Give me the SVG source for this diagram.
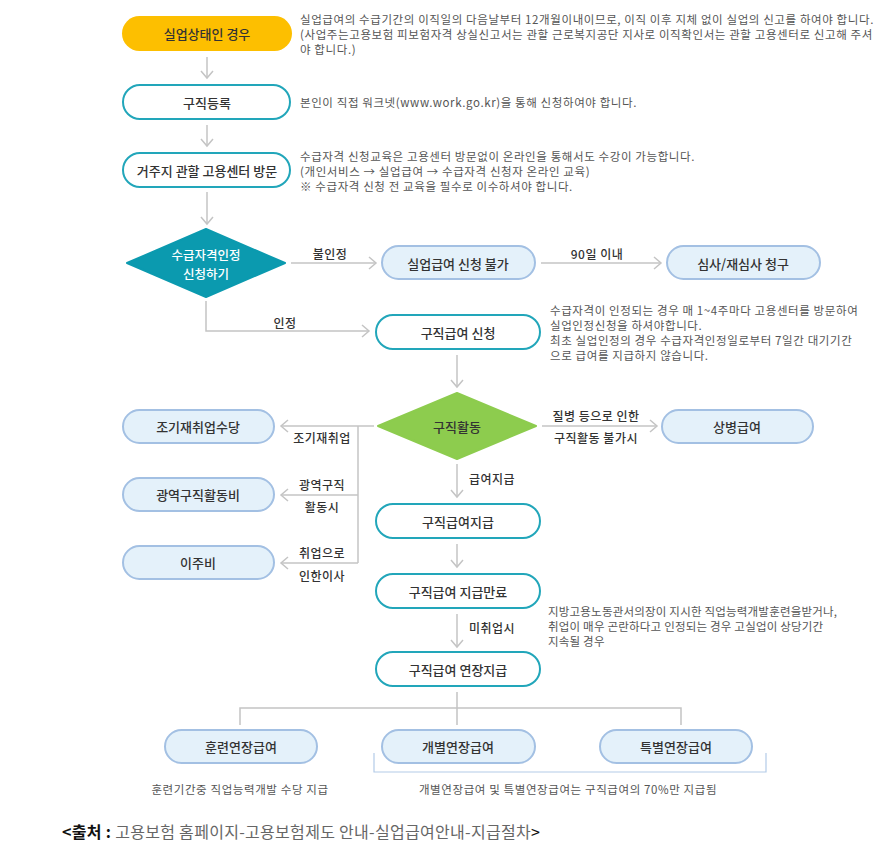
<svg xmlns="http://www.w3.org/2000/svg" width="894" height="855" viewBox="0 0 894 855">
<defs>
<marker id="ah" markerWidth="12" markerHeight="14" refX="9" refY="7" orient="auto" markerUnits="userSpaceOnUse">
<path d="M2,1 L9,7 L2,13" fill="none" stroke="#c4c4c4" stroke-width="1.5"/>
</marker>
<style>
text{font-family:"Noto Sans CJK KR","Noto Sans",sans-serif;dominant-baseline:central}
.lbl{font-size:13px;fill:#333;text-anchor:middle;font-weight:500}
.wl{font-size:12.5px;fill:#fff;text-anchor:middle;font-weight:500}
.edge{font-size:12px;fill:#333;text-anchor:middle;font-weight:500;letter-spacing:0.5px}
.note{font-size:11.5px;fill:#555;letter-spacing:0.6px}
.pt{fill:#fff;stroke:#22a6ba;stroke-width:2}
.pb{fill:#e4f1fa;stroke:#a3c0e3;stroke-width:2}
.c{fill:none;stroke:#c4c4c4;stroke-width:1.5}
</style>
</defs>
<rect width="894" height="855" fill="#fff"/>

<g id="connectors">
<path class="c" d="M207,57 V78" marker-end="url(#ah)"/>
<path class="c" d="M207,125 V146" marker-end="url(#ah)"/>
<path class="c" d="M207,192 V224" marker-end="url(#ah)"/>
<path class="c" d="M291,263 H376" marker-end="url(#ah)"/>
<path class="c" d="M541,263 H661" marker-end="url(#ah)"/>
<path class="c" d="M206,301 V331 H369" marker-end="url(#ah)"/>
<path class="c" d="M457,355 V387" marker-end="url(#ah)"/>
<path class="c" d="M542,426 H657" marker-end="url(#ah)"/>
<path class="c" d="M374,426 H281" marker-end="url(#ah)"/>
<path class="c" d="M358,426 V563"/>
<path class="c" d="M358,495 H281" marker-end="url(#ah)"/>
<path class="c" d="M358,563 H281" marker-end="url(#ah)"/>
<path class="c" d="M457,464 V497" marker-end="url(#ah)"/>
<path class="c" d="M457,544 V567" marker-end="url(#ah)"/>
<path class="c" d="M457,614 V647" marker-end="url(#ah)"/>
<path class="c" d="M457,692 V725 M240,725 V708 H681 V725"/>
<path d="M374,753 V772 H766 V753" fill="none" stroke="#b3cbe8" stroke-width="1.2"/>
<text class="edge" x="330" y="253">불인정</text>
<text class="edge" x="597" y="253">90일 이내</text>
<text class="edge" x="285" y="322">인정</text>
<text class="edge" x="596" y="415">질병 등으로 인한</text>
<text class="edge" x="596" y="437">구직활동 불가시</text>
<text class="edge" x="322" y="437">조기재취업</text>
<text class="edge" x="322" y="484">광역구직</text>
<text class="edge" x="322" y="506">활동시</text>
<text class="edge" x="322" y="552">취업으로</text>
<text class="edge" x="322" y="575">인한이사</text>
<text class="edge" x="492" y="478">급여지급</text>
<text class="edge" x="492" y="627">미취업시</text>
</g>

<g id="n1">
<rect x="122" y="16" width="170" height="35" rx="17.5" fill="#fdbf00"/>
<text class="lbl" x="207" y="33.5">실업상태인 경우</text>
<text class="note"><tspan x="300" y="19">실업급여의 수급기간의 이직일의 다음날부터 12개월이내이므로, 이직 이후 지체 없이 실업의 신고를 하여야 합니다.</tspan><tspan x="300" y="34">(사업주는고용보험 피보험자격 상실신고서는 관할 근로복지공단 지사로 이직확인서는 관할 고용센터로 신고해 주셔</tspan><tspan x="300" y="49">야 합니다.)</tspan></text>
</g>
<g id="n2">
<rect class="pt" x="123" y="85" width="167" height="34" rx="17"/>
<text class="lbl" x="207" y="102">구직등록</text>
<text class="note" x="300" y="102">본인이 직접 워크넷(www.work.go.kr)을 통해 신청하여야 합니다.</text>
</g>
<g id="n3">
<rect class="pt" x="123" y="153" width="167" height="34" rx="17"/>
<text class="lbl" x="207" y="170">거주지 관할 고용센터 방문</text>
<text class="note"><tspan x="300" y="156">수급자격 신청교육은 고용센터 방문없이 온라인을 통해서도 수강이 가능합니다.</tspan><tspan x="300" y="171">(개인서비스 → 실업급여 → 수급자격 신청자 온라인 교육)</tspan><tspan x="300" y="186">※ 수급자격 신청 전 교육을 필수로 이수하셔야 합니다.</tspan></text>
</g>
<g id="d1">
<path d="M127,263 L206,229 L285,263 L206,297 Z" fill="#0b9aaf" stroke="#0b9aaf" stroke-width="2" stroke-linejoin="round"/>
<text class="wl"><tspan x="206" y="254">수급자격인정</tspan><tspan x="206" y="272.5">신청하기</tspan></text>
</g>
<g id="n4">
<rect class="pb" x="382" y="246" width="153" height="33" rx="16.5"/>
<text class="lbl" x="458" y="263">실업급여 신청 불가</text>
</g>
<g id="n5">
<rect class="pb" x="667" y="246" width="153" height="33" rx="16.5"/>
<text class="lbl" x="743" y="263">심사/재심사 청구</text>
</g>
<g id="n6">
<rect class="pt" x="376" y="315" width="164" height="34" rx="17"/>
<text class="lbl" x="458" y="332">구직급여 신청</text>
<text class="note"><tspan x="550" y="310">수급자격이 인정되는 경우 매 1~4주마다 고용센터를 방문하여</tspan><tspan x="550" y="325">실업인정신청을 하셔야합니다.</tspan><tspan x="550" y="340">최초 실업인정의 경우 수급자격인정일로부터 7일간 대기기간</tspan><tspan x="550" y="355">으로 급여를 지급하지 않습니다.</tspan></text>
</g>
<g id="d2">
<path d="M378,426 L457,393 L536,426 L457,459 Z" fill="#8dcc4e" stroke="#8dcc4e" stroke-width="2" stroke-linejoin="round"/>
<text class="lbl" x="457" y="426">구직활동</text>
</g>
<g id="n7">
<rect class="pb" x="662" y="410" width="151" height="33" rx="16.5"/>
<text class="lbl" x="737" y="426.5">상병급여</text>
</g>
<g id="n8">
<rect class="pb" x="123" y="410" width="151" height="33" rx="16.5"/>
<text class="lbl" x="198" y="426.5">조기재취업수당</text>
</g>
<g id="n9">
<rect class="pb" x="123" y="478" width="151" height="33" rx="16.5"/>
<text class="lbl" x="198" y="494.5">광역구직활동비</text>
</g>
<g id="n10">
<rect class="pb" x="123" y="546" width="151" height="33" rx="16.5"/>
<text class="lbl" x="198" y="562.5">이주비</text>
</g>
<g id="n11">
<rect class="pt" x="376" y="504" width="164" height="34" rx="17"/>
<text class="lbl" x="458" y="521">구직급여지급</text>
</g>
<g id="n12">
<rect class="pt" x="376" y="574" width="164" height="34" rx="17"/>
<text class="lbl" x="458" y="591">구직급여 지급만료</text>
<text class="note" style="letter-spacing:0.2px"><tspan x="548" y="611">지방고용노동관서의장이 지시한 직업능력개발훈련을받거나,</tspan><tspan x="548" y="626">취업이 매우 곤란하다고 인정되는 경우 고실업이 상당기간</tspan><tspan x="548" y="641">지속될 경우</tspan></text>
</g>
<g id="n13">
<rect class="pt" x="376" y="652" width="164" height="34" rx="17"/>
<text class="lbl" x="458" y="669">구직급여 연장지급</text>
</g>
<g id="n14">
<rect class="pb" x="165" y="730" width="152" height="33" rx="16.5"/>
<text class="lbl" x="241" y="746.5">훈련연장급여</text>
<text class="note" x="240" y="789" text-anchor="middle">훈련기간중 직업능력개발 수당 지급</text>
</g>
<g id="n15">
<rect class="pb" x="382" y="730" width="153" height="33" rx="16.5"/>
<text class="lbl" x="458" y="746.5">개별연장급여</text>
</g>
<g id="n16">
<rect class="pb" x="600" y="730" width="152" height="33" rx="16.5"/>
<text class="lbl" x="676" y="746.5">특별연장급여</text>
<text class="note" x="568" y="789" text-anchor="middle">개별연장급여 및 특별연장급여는 구직급여의 70%만 지급됨</text>
</g>
<text x="62" y="831" style="font-size:16px;fill:#111;letter-spacing:0.3px"><tspan font-weight="bold">&lt;출처 : </tspan><tspan fill="#666">고용보험 홈페이지-고용보험제도 안내-실업급여안내-지급절차</tspan>&gt;</text>
</svg>
